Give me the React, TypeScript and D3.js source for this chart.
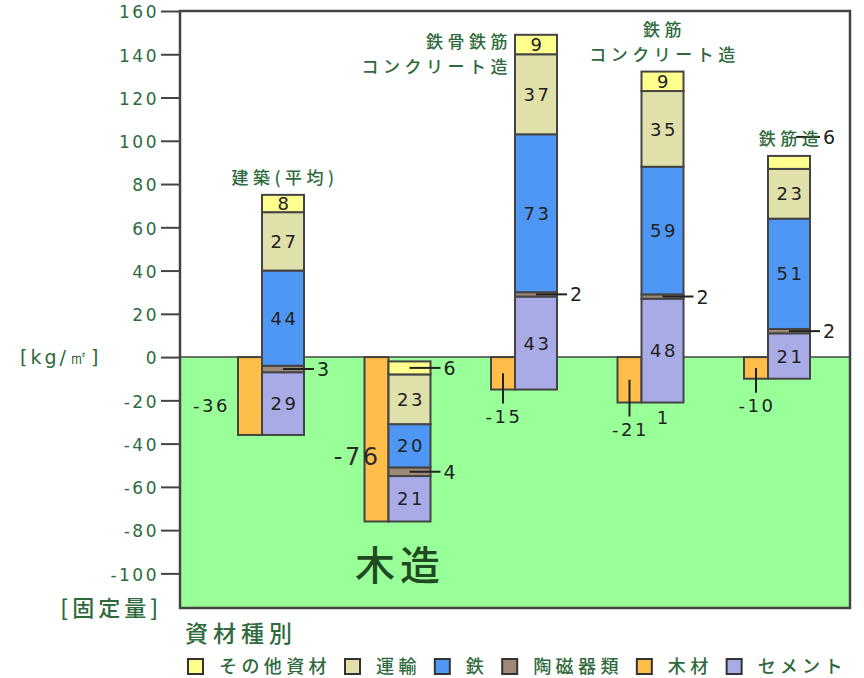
import React, { useEffect, useRef } from 'react';
import * as d3 from 'd3';

// building types (one stacked bar + one wood bar each)
const groups = ['建築(平均)', '木造', '鉄骨鉄筋コンクリート造', '鉄筋コンクリート造', '鉄筋造'];
const groupLabelLines = [['建築(平均)'], [], ['鉄骨鉄筋', 'コンクリート造'], ['鉄筋', 'コンクリート造'], ['鉄筋造']];
const groupLabelPlace = ['above', 'none', 'left', 'above', 'above'];

// emission by material [kg/m2]
const cement = [29, 21, 43, 48, 21];
const ceramics = [3, 4, 2, 2, 2];
const iron = [44, 20, 73, 59, 51];
const transport = [27, 23, 37, 35, 23];
const other = [8, 6, 9, 9, 6];
// fixed amount (wood)
const wood = [-36, -76, -15, -21, -10];
const woodLabelPlace = ['left', 'leftBig', 'below', 'below', 'below'];

const stackKeys = ['cement', 'ceramics', 'iron', 'transport', 'other'];
const stackValues: Record<string, number[]> = { cement, ceramics, iron, transport, other };

const legendNames = ['その他資材', '運輸', '鉄', '陶磁器類', '木材', 'セメント'];
const legendKeys = ['other', 'transport', 'iron', 'ceramics', 'wood', 'cement'];
const colors: Record<string, string> = {
  other: '#ffff8e',
  transport: '#dfe0aa',
  iron: '#4e97f4',
  ceramics: '#9e8878',
  wood: '#ffbd4a',
  cement: '#a9abe6',
};

const yTicks = [160, 140, 120, 100, 80, 60, 40, 20, 0, -20, -40, -60, -80, -100];
// stray "1" printed under the RC bar
const extraNotes = [{ group: 3, text: '1' }];

const FONT = "'Noto Sans CJK JP', 'Noto Sans', sans-serif";
const NUM_FONT = "'DejaVu Sans', sans-serif";
const GREEN_TEXT = '#2e6a3c';
const EDGE = '#444';

const App = () => {
  const svgRef = useRef<SVGSVGElement>(null);

  useEffect(() => {
    if (!svgRef.current) return;
    const svg = d3.select(svgRef.current);
    svg.selectAll('*').remove();

    const left = 180, right = 850, top = 11, bottom = 608;
    const y = d3.scaleLinear().domain([-116, 160]).range([bottom, top]);
    const x = d3.scalePoint<string>().domain(groups).range([271, 777]);
    const woodW = 24, stackW = 42;
    const woodX = (g: string) => x(g)! - 33;
    const stackX = (g: string) => x(g)! - 9;

    // background + green fixed area
    svg.append('rect').attr('x', left).attr('y', top).attr('width', right - left).attr('height', bottom - top).attr('fill', '#fff');
    svg.append('rect').attr('x', left).attr('y', y(0)).attr('width', right - left).attr('height', bottom - y(0)).attr('fill', '#99ff99');
    svg.append('line').attr('x1', left).attr('x2', right).attr('y1', y(0)).attr('y2', y(0)).attr('stroke', EDGE).attr('stroke-width', 1.5);

    // y axis
    const axis = svg.append('g').attr('transform', `translate(${left},0)`)
      .call(d3.axisLeft(y).tickValues(yTicks).tickSize(19).tickPadding(2).tickFormat(d => String(d)));
    axis.select('.domain').remove();
    axis.selectAll('line').attr('stroke', EDGE).attr('stroke-width', 2);
    axis.selectAll('text').attr('fill', GREEN_TEXT).attr('font-size', 17).attr('font-family', NUM_FONT)
      .attr('letter-spacing', 2.5).attr('dy', '0.4em');

    svg.append('text').attr('x', 20).attr('y', y(0)).attr('dy', '0.38em').attr('fill', GREEN_TEXT)
      .attr('font-size', 19).attr('font-family', NUM_FONT).attr('letter-spacing', 3).text('[kg/㎡]');
    svg.append('text').attr('x', 162).attr('y', bottom).attr('dy', '0.36em').attr('text-anchor', 'end').attr('fill', GREEN_TEXT)
      .attr('font-size', 22).attr('font-family', FONT).attr('font-weight', 500).attr('letter-spacing', 4).text('[固定量]');

    // "木造" big label
    svg.append('text').attr('x', 355).attr('y', 566).attr('dy', '0.36em').attr('fill', '#1f4a22')
      .attr('font-size', 40).attr('font-family', FONT).attr('font-weight', 500).attr('letter-spacing', 5).text('木造');

    // wood bars
    svg.append('g').selectAll('rect').data(groups).enter().append('rect')
      .attr('x', d => woodX(d)).attr('width', woodW)
      .attr('y', y(0)).attr('height', (d, i) => y(wood[i]) - y(0))
      .attr('fill', colors.wood).attr('stroke', EDGE).attr('stroke-width', 2);

    // stacked bars sitting on the wood offset
    const rows = groups.map((g, i) => {
      const r: any = { group: g };
      stackKeys.forEach(k => { r[k] = stackValues[k][i]; });
      return r;
    });
    const series = d3.stack().keys(stackKeys)(rows);
    const segs: any[] = [];
    series.forEach(s => {
      s.forEach((p: any, i) => {
        segs.push({ key: s.key, g: groups[i], i, y0: p[0] + wood[i], y1: p[1] + wood[i], v: p[1] - p[0] });
      });
    });

    svg.append('g').selectAll('rect').data(segs).enter().append('rect')
      .attr('x', d => stackX(d.g)).attr('width', stackW)
      .attr('y', d => y(d.y1)).attr('height', d => y(d.y0) - y(d.y1))
      .attr('fill', d => colors[d.key]).attr('stroke', EDGE).attr('stroke-width', 2);

    // value labels inside / with leaders
    const small = segs.filter(d => d.v < 8);
    const big = segs.filter(d => d.v >= 8);
    svg.append('g').selectAll('text').data(big).enter().append('text')
      .attr('x', d => stackX(d.g) + stackW / 2 + 1.5).attr('y', d => y((d.y0 + d.y1) / 2)).attr('dy', '0.37em')
      .attr('text-anchor', 'middle').attr('font-size', 18).attr('font-family', NUM_FONT).attr('letter-spacing', 2.5)
      .attr('fill', '#222').text(d => d.v);

    const lab = svg.append('g');
    small.forEach(d => {
      const sx = stackX(d.g);
      const topLabel = d.key === 'other' && d.i === 4;
      const ly = topLabel ? y(d.y1) - 19 : y((d.y0 + d.y1) / 2);
      const x1 = topLabel ? sx + stackW / 2 + 7 : sx + stackW / 2;
      lab.append('line').attr('x1', x1).attr('x2', sx + stackW + 10).attr('y1', ly).attr('y2', ly)
        .attr('stroke', '#222').attr('stroke-width', 2);
      lab.append('text').attr('x', sx + stackW + 13).attr('y', ly).attr('dy', '0.37em')
        .attr('font-size', 19).attr('font-family', NUM_FONT).attr('fill', '#222').text(d.v);
    });

    // wood value labels
    groups.forEach((g, i) => {
      const wx = woodX(g), wb = y(wood[i]);
      const place = woodLabelPlace[i];
      if (place === 'left') {
        lab.append('text').attr('x', wx - 8).attr('y', y(wood[i] * 0.62)).attr('dy', '0.37em').attr('text-anchor', 'end')
          .attr('font-size', 18).attr('font-family', NUM_FONT).attr('letter-spacing', 2.5).attr('fill', '#222').text(wood[i]);
      } else if (place === 'leftBig') {
        lab.append('text').attr('x', wx + 16).attr('y', y(wood[i] * 0.6)).attr('dy', '0.37em').attr('text-anchor', 'end')
          .attr('font-size', 24).attr('font-family', NUM_FONT).attr('letter-spacing', 2.5).attr('fill', '#2a2a2a').text(wood[i]);
      } else {
        const cx = wx + woodW / 2;
        lab.append('line').attr('x1', cx).attr('x2', cx).attr('y1', y(wood[i] / 2)).attr('y2', wb + 14)
          .attr('stroke', '#222').attr('stroke-width', 2);
        lab.append('text').attr('x', cx + 1).attr('y', wb + 27).attr('dy', '0.37em').attr('text-anchor', 'middle')
          .attr('font-size', 18).attr('font-family', NUM_FONT).attr('letter-spacing', 2.5).attr('fill', '#222').text(wood[i]);
      }
    });

    extraNotes.forEach(n => {
      const g = groups[n.group];
      lab.append('text').attr('x', stackX(g) + stackW / 2).attr('y', y(wood[n.group]) + 15).attr('dy', '0.37em')
        .attr('text-anchor', 'middle').attr('font-size', 18).attr('font-family', NUM_FONT).attr('fill', '#222').text(n.text);
    });

    // category labels
    groups.forEach((g, i) => {
      const lines = groupLabelLines[i];
      const topY = y(wood[i] + stackKeys.reduce((s, k) => s + stackValues[k][i], 0));
      const cx = stackX(g) + stackW / 2;
      lines.forEach((t, j) => {
        const el = lab.append('text').attr('font-size', 17).attr('font-family', FONT).attr('font-weight', 500)
          .attr('fill', GREEN_TEXT).attr('letter-spacing', 4.5).attr('dy', '0.36em').text(t);
        if (groupLabelPlace[i] === 'left') {
          el.attr('x', stackX(g) - 3).attr('y', topY + 7 + j * 25).attr('text-anchor', 'end');
        } else {
          el.attr('x', cx + 2).attr('y', topY - 17 - (lines.length - 1 - j) * 25).attr('text-anchor', 'middle');
        }
      });
    });

    // frame
    svg.append('rect').attr('x', left).attr('y', top).attr('width', right - left).attr('height', bottom - top)
      .attr('fill', 'none').attr('stroke', EDGE).attr('stroke-width', 2.5);

    // legend
    const leg = svg.append('g');
    leg.append('text').attr('x', 185).attr('y', 634).attr('dy', '0.36em').attr('font-size', 23).attr('font-family', FONT)
      .attr('font-weight', 500).attr('letter-spacing', 5).attr('fill', GREEN_TEXT).text('資材種別');
    let lx = 188;
    legendKeys.forEach((k, i) => {
      leg.append('rect').attr('x', lx).attr('y', 659).attr('width', 15).attr('height', 15)
        .attr('fill', colors[k]).attr('stroke', '#333').attr('stroke-width', 2);
      const t = leg.append('text').attr('x', lx + 31).attr('y', 667).attr('dy', '0.36em').attr('font-size', 18)
        .attr('font-family', FONT).attr('font-weight', 500).attr('letter-spacing', 4.4).attr('fill', GREEN_TEXT)
        .text(legendNames[i]);
      const w = (t.node() as SVGTextElement).getComputedTextLength();
      lx += 31 + w + 14;
    });
  }, []);

  return (
    <svg
      ref={svgRef}
      width={864}
      height={678}
      viewBox="0 0 864 678"
      style={{ position: 'absolute', left: 0, top: 0, background: '#fff' }}
    />
  );
};

export default App;
